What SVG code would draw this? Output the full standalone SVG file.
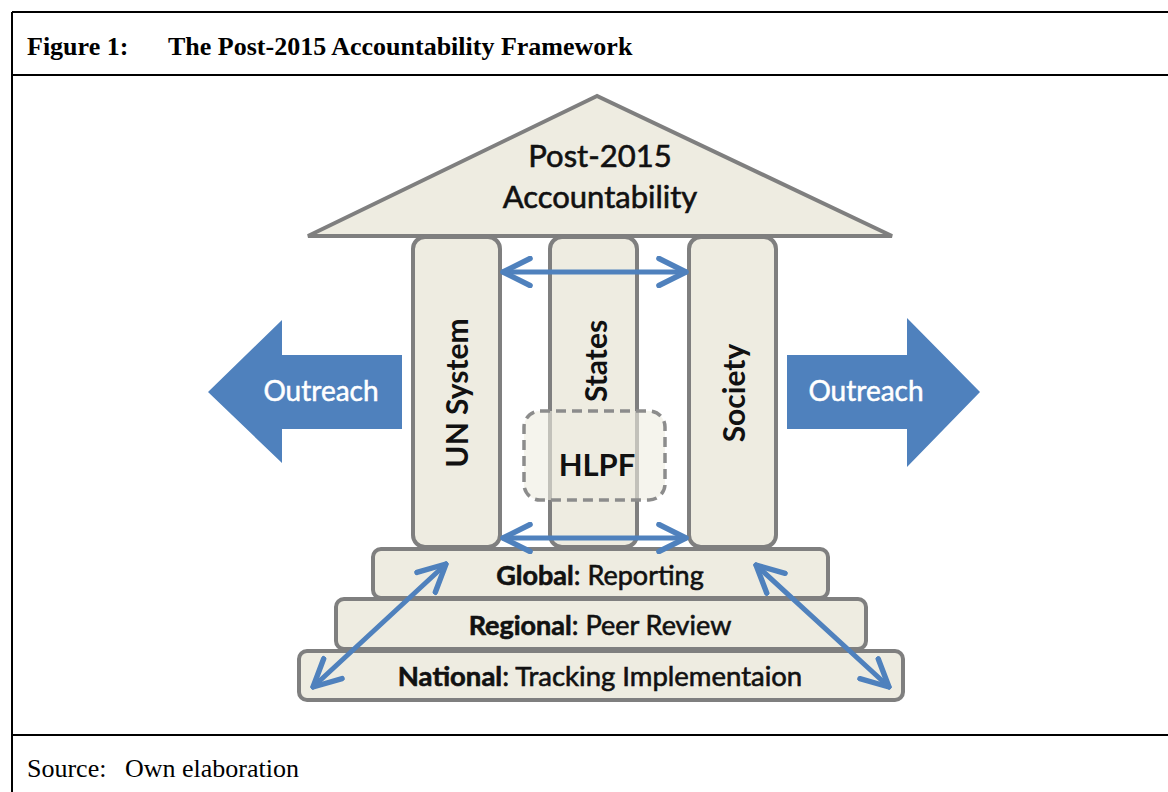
<svg xmlns="http://www.w3.org/2000/svg" width="1168" height="792" viewBox="0 0 1168 792">
<defs>
<style>
.frame{stroke:#000;stroke-width:2;fill:none}
.cap{font-family:"Liberation Serif",serif;font-size:26px;fill:#000}
.box{fill:#EEECE1;stroke:#7F7F7F;stroke-width:4}
.lbl{font-family:Lato,"Open Sans",sans-serif;fill:#111;text-anchor:middle}
.med{stroke:#111;stroke-width:0.6}
.b{font-weight:bold}
.conn{stroke:#4F81BD;stroke-width:5;fill:none;stroke-linecap:round;stroke-linejoin:round}
.out{fill:#4F81BD}
.outt{font-family:Lato,"Open Sans",sans-serif;font-size:28px;fill:#fff;stroke:#fff;stroke-width:0.5;text-anchor:middle}
</style>
<marker id="chev" viewBox="0 0 12 12" refX="11" refY="6" markerWidth="6.5" markerHeight="6.5" orient="auto-start-reverse" markerUnits="strokeWidth">
<path d="M1,1 L11,6 L1,11" fill="none" stroke="#4F81BD" stroke-width="2" stroke-linecap="round" stroke-linejoin="round"/>
</marker>
</defs>
<rect width="1168" height="792" fill="#fff"/>
<g id="frame">
<path class="frame" d="M12,12 H1168 M12,12 V792 M12,75 H1168 M12,735 H1168"/>
<text class="cap" x="27" y="55" font-weight="bold">Figure 1:</text>
<text class="cap" x="168" y="55" font-weight="bold">The Post-2015 Accountability Framework</text>
<text class="cap" x="27" y="777" font-size="26">Source:</text>
<text class="cap" x="125" y="777" font-size="26.5">Own elaboration</text>
</g>
<g id="outreach-left">
<path class="out" d="M208,392 L282,320 L282,355 L402,355 L402,429 L282,429 L282,463 Z"/>
<text class="outt" x="321" y="401">Outreach</text>
</g>
<g id="outreach-right">
<path class="out" d="M980,392 L907,318 L907,355 L787,355 L787,429 L907,429 L907,467 Z"/>
<text class="outt" x="866" y="401">Outreach</text>
</g>
<g id="roof">
<path class="box" d="M597,96 L308,236 L892,236 Z"/>
<text class="lbl med" x="600" y="167" font-size="31">Post-2015</text>
<text class="lbl med" x="600" y="208" font-size="31">Accountability</text>
</g>
<g id="un-system">
<rect class="box" x="413" y="237" width="87" height="310" rx="12"/>
<text class="lbl b" transform="translate(468,393) rotate(-90)" font-size="30">UN System</text>
</g>
<g id="states">
<rect class="box" x="550" y="237" width="87" height="310" rx="12"/>
<text class="lbl b" transform="translate(607,361) rotate(-90)" font-size="30">States</text>
</g>
<g id="society">
<rect class="box" x="689" y="237" width="87" height="310" rx="12"/>
<text class="lbl b" transform="translate(745,393) rotate(-90)" font-size="30">Society</text>
</g>
<g id="hlpf">
<rect x="524" y="411" width="141" height="89" rx="16" fill="#EEECE1" fill-opacity="0.6" stroke="#8C8C8C" stroke-width="3.5" stroke-dasharray="10 6"/>
<text class="lbl b" x="597" y="476" font-size="31">HLPF</text>
</g>
<g id="global">
<rect class="box" x="373" y="549" width="455" height="49" rx="8"/>
<text class="lbl med" x="600" y="585" font-size="27"><tspan class="b">Global</tspan>: Reporting</text>
</g>
<g id="regional">
<rect class="box" x="336" y="599" width="530" height="50" rx="8"/>
<text class="lbl med" x="600" y="635" font-size="27"><tspan class="b">Regional</tspan>: Peer Review</text>
</g>
<g id="national">
<rect class="box" x="299" y="651" width="604" height="49" rx="8"/>
<text class="lbl med" x="600" y="686" font-size="27.5"><tspan class="b">National</tspan>: Tracking Implementaion</text>
</g>
<g id="connectors">
<line class="conn" x1="503" y1="272" x2="686" y2="272" marker-start="url(#chev)" marker-end="url(#chev)"/>
<line class="conn" x1="503" y1="538" x2="686" y2="538" marker-start="url(#chev)" marker-end="url(#chev)"/>
<line class="conn" x1="446" y1="564" x2="313" y2="687" marker-start="url(#chev)" marker-end="url(#chev)"/>
<line class="conn" x1="756" y1="565" x2="889" y2="687" marker-start="url(#chev)" marker-end="url(#chev)"/>
</g>
</svg>
